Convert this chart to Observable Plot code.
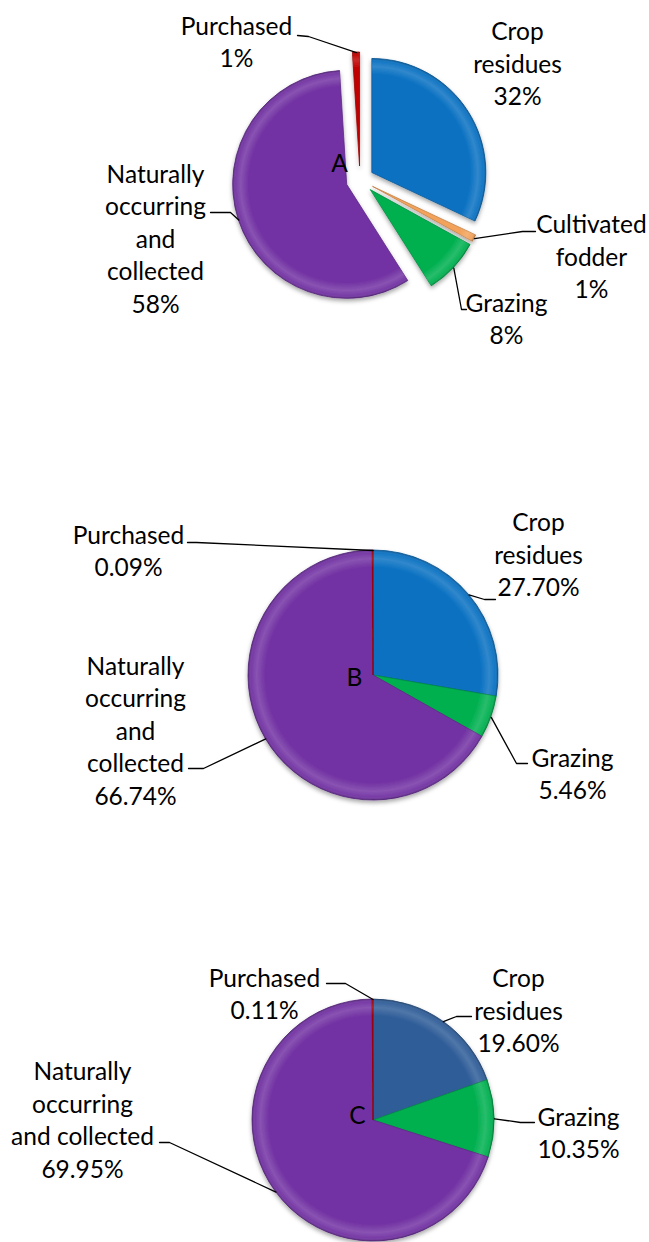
<!DOCTYPE html>
<html>
<head>
<meta charset="utf-8">
<script src="https://cdn.jsdelivr.net/npm/d3@7"></script>
<script src="https://cdn.jsdelivr.net/npm/@observablehq/plot@0.6"></script>
<style>
  html, body { margin: 0; padding: 0; background: #ffffff; }
  #chart svg { display: block; }
</style>
</head>
<body>
<div id="chart"></div>
<script>
// ---------------- DATA ----------------
const categories = ["Crop residues", "Cultivated fodder", "Grazing", "Naturally occurring and collected", "Purchased"];
const panels = ["A", "B", "C"];
const valuesA = [32, 1, 8, 58, 1];
const valuesB = [27.70, 0, 5.46, 66.74, 0.09];
const valuesC = [19.60, 0, 10.35, 69.95, 0.11];
const percentLabelsA = ["32%", "1%", "8%", "58%", "1%"];
const percentLabelsB = ["27.70%", "", "5.46%", "66.74%", "0.09%"];
const percentLabelsC = ["19.60%", "", "10.35%", "69.95%", "0.11%"];
const seriesValues = [valuesA, valuesB, valuesC];
const seriesLabels = [percentLabelsA, percentLabelsB, percentLabelsC];

// ---------------- LAYOUT / STYLE ----------------
const W = 649, H = 1242;
const FONT = "Lato, 'Open Sans', sans-serif";
const FONT_SIZE = 24.5;
const LINE_PX = 32.5;

const pieLayout = {
  A: {cx: 360, cy: 180, r: 114, explode: 14, letter: [339, 164]},
  B: {cx: 373, cy: 675, r: 125, explode: 0, letter: [354, 678]},
  C: {cx: 373, cy: 1120, r: 121, explode: 0, letter: [357, 1116]}
};

const sliceColors = {
  A: {"Crop residues": "#0a71c2", "Cultivated fodder": "#f2a25a", "Grazing": "#00b050", "Naturally occurring and collected": "#7232a3", "Purchased": "#c00000"},
  B: {"Crop residues": "#0a71c2", "Cultivated fodder": "#f2a25a", "Grazing": "#00b050", "Naturally occurring and collected": "#7232a3", "Purchased": "#c00000"},
  C: {"Crop residues": "#2f5d98", "Cultivated fodder": "#f2a25a", "Grazing": "#00b050", "Naturally occurring and collected": "#7232a3", "Purchased": "#c00000"}
};

const wrappedNames = {
  A: {"Crop residues": "Crop\nresidues", "Cultivated fodder": "Cultivated\nfodder", "Grazing": "Grazing",
      "Naturally occurring and collected": "Naturally\noccurring\nand\ncollected", "Purchased": "Purchased"},
  B: {"Crop residues": "Crop\nresidues", "Cultivated fodder": "Cultivated\nfodder", "Grazing": "Grazing",
      "Naturally occurring and collected": "Naturally\noccurring\nand\ncollected", "Purchased": "Purchased"},
  C: {"Crop residues": "Crop\nresidues", "Cultivated fodder": "Cultivated\nfodder", "Grazing": "Grazing",
      "Naturally occurring and collected": "Naturally\noccurring\nand collected", "Purchased": "Purchased"}
};

// label block centre and leader-line points (label end, elbow); the last leader point is computed from the slice
const labelLayout = {
  A: {
    "Crop residues": {x: 517, y: 62, leader: null},
    "Cultivated fodder": {x: 591, y: 255, leader: [[535, 231], [522, 231]]},
    "Grazing": {x: 506, y: 317, leader: [[466, 309], [461, 309]]},
    "Naturally occurring and collected": {x: 155, y: 237, leader: [[210, 212], [230, 212]]},
    "Purchased": {x: 236, y: 40, leader: [[297, 35], [308, 36]]}
  },
  B: {
    "Crop residues": {x: 538, y: 553, leader: [[495, 599], [484, 599]]},
    "Grazing": {x: 572, y: 772, leader: [[527, 763], [516, 763]]},
    "Naturally occurring and collected": {x: 135, y: 729, leader: [[188, 768], [203, 768]]},
    "Purchased": {x: 128, y: 549, leader: [[187, 542], [196, 542]]}
  },
  C: {
    "Crop residues": {x: 518, y: 1009, leader: [[471, 1016], [456, 1016]]},
    "Grazing": {x: 578, y: 1131, leader: [[534, 1122], [520, 1122]]},
    "Naturally occurring and collected": {x: 82, y: 1118, leader: [[159, 1142], [169, 1142]]},
    "Purchased": {x: 264, y: 992, leader: [[326, 983], [345, 983]]}
  }
};

// ---------------- BUILD ROWS ----------------
function sliceData(pi) {
  return categories.map((c, i) => ({category: c, value: seriesValues[pi][i], pct: seriesLabels[pi][i]}))
                   .filter(d => d.value > 0);
}

const textRows = [];
const leaderRows = [];
const letterRows = [];
panels.forEach((p, pi) => {
  const L = pieLayout[p];
  letterRows.push({x: L.letter[0], y: L.letter[1], text: p});
  const arcs = d3.pie().sort(null).value(d => d.value)(sliceData(pi));
  arcs.forEach(a => {
    const d = a.data;
    const lab = labelLayout[p][d.category];
    if (!lab) return;
    textRows.push({x: lab.x, y: lab.y, text: wrappedNames[p][d.category] + "\n" + d.pct});
    if (lab.leader) {
      const mid = (a.startAngle + a.endAngle) / 2;
      const ax = L.cx + (L.explode + L.r) * Math.sin(mid);
      const ay = L.cy - (L.explode + L.r) * Math.cos(mid);
      const id = p + "|" + d.category;
      lab.leader.forEach(([x, y]) => leaderRows.push({id, x, y}));
      leaderRows.push({id, x: ax, y: ay});
    }
  });
});

// ---------------- CUSTOM MARKS ----------------
function defsMark() {
  return (index, scales) => {
    const defs = d3.create("svg:defs");
    const f = defs.append("filter").attr("id", "pieShadow").attr("x", "-20%").attr("y", "-20%").attr("width", "140%").attr("height", "140%");
    f.append("feDropShadow").attr("dx", 0).attr("dy", 2.5).attr("stdDeviation", 2.2)
      .attr("flood-color", "#000").attr("flood-opacity", 0.35);
    panels.forEach(p => {
      const L = pieLayout[p];
      const r = scales.x(L.cx + L.r) - scales.x(L.cx);
      const g = defs.append("radialGradient").attr("id", "bevel" + p)
        .attr("gradientUnits", "userSpaceOnUse").attr("cx", 0).attr("cy", 0).attr("r", r);
      [[0, "#ffffff", 0], [0.86, "#ffffff", 0], [0.93, "#ffffff", 0.16], [0.975, "#ffffff", 0.05], [1, "#000000", 0.22]]
        .forEach(([o, c, op]) => g.append("stop").attr("offset", o).attr("stop-color", c).attr("stop-opacity", op));
    });
    return defs.node();
  };
}

function pieMark(pi) {
  const p = panels[pi];
  const L = pieLayout[p];
  const data = sliceData(pi);
  return (index, scales) => {
    const cx = scales.x(L.cx), cy = scales.y(L.cy);
    const r = scales.x(L.cx + L.r) - cx;
    const ex = scales.x(L.cx + L.explode) - cx;
    const arcs = d3.pie().sort(null).value(d => d.value)(data);
    const arcGen = d3.arc().innerRadius(0).outerRadius(r);
    const g = d3.create("svg:g").attr("filter", "url(#pieShadow)");
    arcs.forEach(a => {
      const mid = (a.startAngle + a.endAngle) / 2;
      const tx = cx + ex * Math.sin(mid), ty = cy - ex * Math.cos(mid);
      const col = sliceColors[p][a.data.category];
      const sg = g.append("g").attr("transform", `translate(${tx},${ty})`);
      sg.append("path").attr("d", arcGen(a)).attr("fill", col)
        .attr("stroke", d3.color(col).darker(0.6)).attr("stroke-width", 0.8).attr("stroke-linejoin", "round");
      sg.append("path").attr("d", arcGen(a)).attr("fill", `url(#bevel${p})`).attr("stroke", "none");
    });
    return g.node();
  };
}

// ---------------- PLOT ----------------
const chart = Plot.plot({
  width: W,
  height: H,
  marginTop: 0, marginRight: 0, marginBottom: 0, marginLeft: 0,
  x: {domain: [0, W], range: [0, W], axis: null},
  y: {domain: [0, H], range: [0, H], axis: null},
  style: {fontFamily: FONT, fontSize: FONT_SIZE + "px", background: "#ffffff", color: "#000"},
  marks: [
    defsMark(),
    pieMark(0),
    pieMark(1),
    pieMark(2),
    Plot.line(leaderRows, {x: "x", y: "y", z: "id", stroke: "#000", strokeWidth: 1.3, curve: "linear"}),
    Plot.text(letterRows, {x: "x", y: "y", text: "text", fontSize: FONT_SIZE, fill: "#000"}),
    Plot.text(textRows, {x: "x", y: "y", text: "text", fontSize: FONT_SIZE, lineHeight: LINE_PX / FONT_SIZE,
      lineAnchor: "middle", textAnchor: "middle", fill: "#000"})
  ]
});
document.getElementById("chart").appendChild(chart);
</script>
</body>
</html>
